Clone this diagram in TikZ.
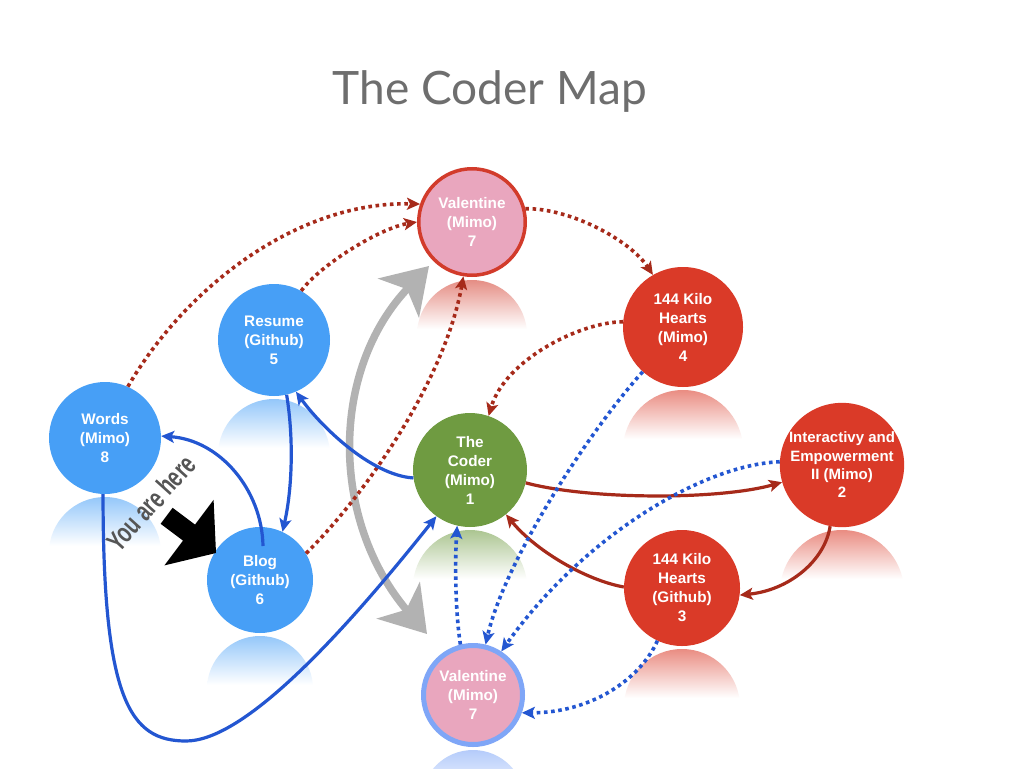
\documentclass[tikz,border=0pt]{standalone}
\usepackage{fontspec}
\setmainfont{Liberation Sans}
\newfontfamily\titlefont{Lato}
\newfontfamily\condfont[FakeStretch=0.7]{Liberation Sans}
\usetikzlibrary{arrows.meta,calc}
\definecolor{nblue}{HTML}{479FF6}
\definecolor{lblue}{HTML}{2356D1}
\definecolor{nred}{HTML}{DA3A28}
\definecolor{lred}{HTML}{A62A1A}
\definecolor{ngreen}{HTML}{6F9B41}
\definecolor{npink}{HTML}{E9A6BE}
\definecolor{ringblue}{HTML}{7FA6F7}
\definecolor{ringred}{HTML}{D23B2B}
\definecolor{chalk}{HTML}{B2B2B2}
\definecolor{titlegray}{HTML}{6E6E6E}
\definecolor{herecol}{HTML}{555555}
\newcommand\mkrefl[4]{%
  \begin{scope}
    \clip (#1,#2+#3+3) circle[radius=#3pt];
    \shade[top color=#4!58!white, middle color=#4!18!white, bottom color=white]
      (#1-#3,#2+3) rectangle (#1+#3,#2+52);
  \end{scope}}
\tikzset{
  mapnode/.style={circle, inner sep=0pt, text=white,
    font=\bfseries\fontsize{15.3}{19}\selectfont, align=center},
  bluenode/.style={mapnode, fill=nblue},
  rednode/.style={mapnode, fill=nred},
  greennode/.style={mapnode, fill=ngreen},
  pinknode/.style={mapnode, fill=npink},
  tipS/.style={-{Stealth[length=13pt,width=12pt,inset=3pt]}},
  solidedge/.style={line width=3.2pt, tipS},
  dotedge/.style={line width=3.6pt, dash pattern=on 3.6pt off 3.6pt, tipS},
  chalkarrow/.style={chalk, line width=7.5pt,
    {Stealth[length=44pt,width=56pt,inset=12pt]}-{Stealth[length=44pt,width=56pt,inset=12pt]}}
}
\begin{document}
\begin{tikzpicture}[x=1pt,y=-1pt]
\fill[white] (0,0) rectangle (1024,768);
\useasboundingbox (0,0) rectangle (1024,768);

% title
\node[font=\titlefont\fontsize{46}{56}\selectfont, text=titlegray, anchor=base] (title) at (490,104) {The Coder Map};

% reflections
\mkrefl{105}{494}{56}{nblue}
\mkrefl{274}{396}{56}{nblue}
\mkrefl{260}{633}{53}{nblue}
\mkrefl{472}{277}{55}{ringred}
\mkrefl{683}{387}{60}{nred}
\mkrefl{470}{527}{57}{ngreen}
\mkrefl{842}{527}{62}{nred}
\mkrefl{682}{646}{58}{nred}
\mkrefl{473}{747}{52}{ringblue}

% nodes
\node[bluenode, minimum size=112pt] (words) at (105,438) {Words\\(Mimo)\\8};
\node[bluenode, minimum size=112pt] (resume) at (274,340) {Resume\\(Github)\\5};
\node[bluenode, minimum size=106pt] (blog) at (260,580) {Blog\\(Github)\\6};
\node[pinknode, draw=ringred, line width=3.5pt, minimum size=106.5pt] (valt) at (472,222) {Valentine\\(Mimo)\\7};
\node[rednode, minimum size=120pt] (kh4) at (683,327) {144 Kilo\\Hearts\\(Mimo)\\4};
\node[greennode, minimum size=114pt] (coder) at (470,470) {The\\Coder\\(Mimo)\\1};
\node[rednode, minimum size=124pt, font=\bfseries\fontsize{15}{18.3}\selectfont] (inter) at (842,465) {Interactivy and\\Empowerment\\II (Mimo)\\2};
\node[rednode, minimum size=116pt] (kh3) at (682,588) {144 Kilo\\Hearts\\(Github)\\3};
\node[pinknode, draw=ringblue, line width=5pt, minimum size=99pt] (valb) at (473,695) {Valentine\\(Mimo)\\7};

% chalk double arrow
\coordinate (gbot) at (427,634);
\coordinate (gtop) at (429,266);
\draw[chalkarrow] (gbot) .. controls (330,520) and (330,370) .. (gtop);

% red edges
\draw[dotedge, lred] (words.66) .. controls (185,288) and (297,201) .. (valt.161);
\draw[dotedge, lred] (resume.61) .. controls (320,265) and (380,228) .. (valt.180);
\draw[dotedge, lred] (blog.30) .. controls (366,494) and (445,380) .. (valt.261);
\draw[dotedge, lred] (valt.14) .. controls (570,208) and (630,240) .. (kh4.120);
\draw[dotedge, lred] (kh4.175) .. controls (580,322) and (505,360) .. (coder.71);
\draw[solidedge, lred] (coder.347) .. controls (590,500) and (720,500) .. (inter.196);
\draw[solidedge, lred] (kh3.179) .. controls (585,580) and (535,550) .. (coder.309);
\draw[solidedge, lred] (inter.259) .. controls (825,560) and (790,590) .. (kh3.353);

% blue edges
\draw[solidedge, lblue] (coder.188) .. controls (370,475) and (320,425) .. (resume.293);
\draw[solidedge, lblue] (resume.283) .. controls (294,440) and (292,490) .. (blog.65);
\draw[solidedge, lblue] ($(blog.center)+(3,-34)$) .. controls (262,490) and (220,440) .. (words.2);
\draw[solidedge, lblue] (words.268) .. controls (103,700) and (130,741) .. (186,741)
   .. controls (240,741) and (330,650) .. (coder.234);
\draw[dotedge, lblue] (valb.104) .. controls (455,610) and (455,560) .. (coder.257);
\draw[dotedge, lblue] (kh4.228) .. controls (590,430) and (505,560) .. (valb.76);
\draw[dotedge, lblue] (inter.177) .. controls (700,465) and (580,540) .. (valb.57);
\draw[dotedge, lblue] (kh3.245) .. controls (640,680) and (590,713) .. (valb.340);

% you are here
\node[font=\condfont\bfseries\fontsize{28}{30}\selectfont, text=herecol, rotate=48, inner sep=0pt] (here) at (151,503) {You are here};
\fill[black] (216,553) -- (213.6,499.8) -- (195,524.6) -- (172.6,507.8) -- (160.6,523.8)
   -- (183,540.6) -- (164.4,565.4) -- cycle;
\end{tikzpicture}
\end{document}
